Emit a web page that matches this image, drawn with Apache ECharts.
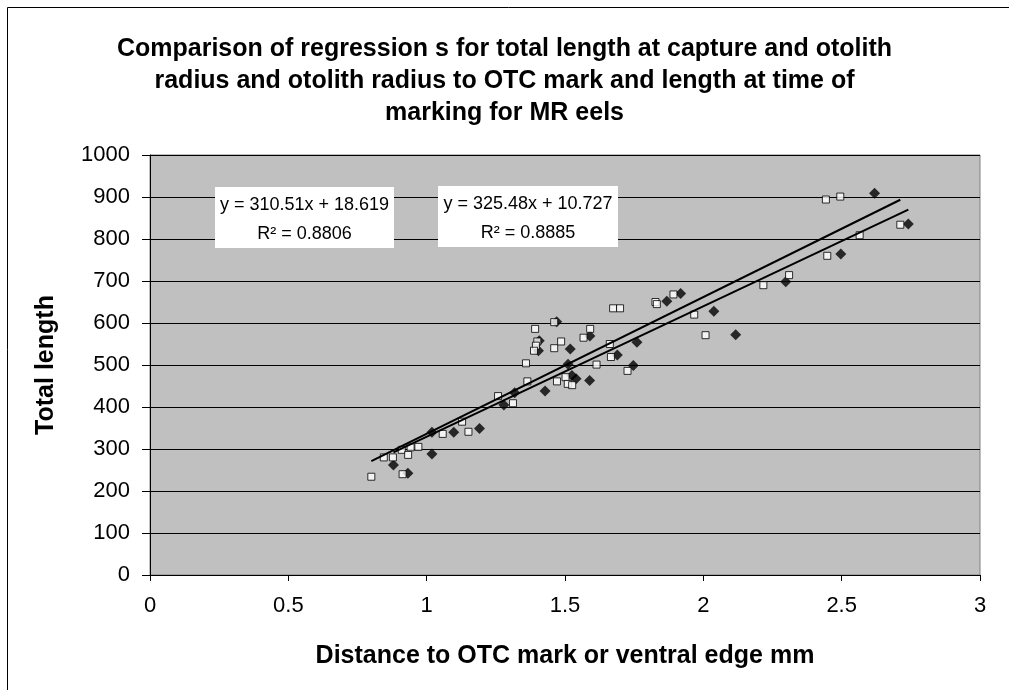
<!DOCTYPE html>
<html>
<head>
<meta charset="utf-8">
<script src="https://cdn.jsdelivr.net/npm/echarts@6/dist/echarts.min.js"></script>
<style>html,body{margin:0;padding:0;background:#fff}#c{width:1009px;height:690px}</style>
</head>
<body>
<div id="c"></div>
<script>
// Length at capture vs otolith radius (open squares)
const captureX = [0.80,0.845,0.878,0.913,0.910,0.933,0.942,0.970,1.058,1.128,1.151,1.258,1.312,1.364,1.359,1.392,1.400,1.395,1.388,1.461,1.461,1.486,1.471,1.502,1.510,1.526,1.567,1.591,1.614,1.662,1.666,1.674,1.699,1.726,1.827,1.832,1.892,1.967,2.008,2.217,2.310,2.443,2.495,2.448,2.565,2.712];
const captureY = [234,280,280,240,298,286,304,305,336,365,341,426,409,461,504,586,556,546,534,602,540,556,461,471,455,452,565,586,501,550,519,635,635,486,650,645,668,620,571,690,714,894,901,760,809,834];
// Length at marking vs radius to OTC mark (filled diamonds)
const markingX = [0.880,0.932,1.019,1.019,1.098,1.191,1.279,1.318,1.428,1.407,1.404,1.470,1.519,1.511,1.525,1.540,1.589,1.590,1.689,1.760,1.747,1.868,1.918,2.038,2.117,2.298,2.497,2.619,2.741];
const markingY = [262,242,288,340,340,349,405,434,438,558,534,603,538,502,475,467,463,569,524,554,499,652,670,628,572,698,764,909,836];
// Regression fits [slope, intercept, R2]
const fitCapture = [325.48, 10.727, 0.8885];
const fitMarking = [310.51, 18.619, 0.8806];
const xTicks = [0,0.5,1,1.5,2,2.5,3];
const titleText = 'Comparison of regression s for total length at capture and otolith\nradius and otolith radius to OTC mark and length at time of\nmarking for MR eels';

const pts = (xs, ys) => xs.map((x, i) => [x, ys[i]]);
const fitLine = (xs, f) => {
  const lo = Math.min(...xs), hi = Math.max(...xs);
  return [[lo, f[0]*lo + f[1]], [hi, f[0]*hi + f[1]]];
};
const eq = f => 'y = ' + f[0].toFixed(2) + 'x + ' + f[1].toFixed(3) + '\nR² = ' + f[2].toFixed(4);

const FONT = 'Liberation Sans, Arial, sans-serif';
const chart = echarts.init(document.getElementById('c'), null, {renderer: 'canvas'});
chart.setOption({
  animation: false,
  backgroundColor: '#ffffff',
  title: {
    text: titleText, left: 'center', top: 28,
    textStyle: {fontFamily: FONT, fontSize: 25, fontWeight: 'bold', color: '#000', lineHeight: 32}
  },
  grid: {left: 150, right: 29, top: 155, bottom: 115, show: true, backgroundColor: '#C0C0C0', borderColor: '#808080', borderWidth: 1},
  xAxis: {
    type: 'value', min: 0, max: 3, interval: 0.5,
    name: 'Distance to OTC mark or ventral edge mm', nameLocation: 'middle', nameGap: 69,
    nameTextStyle: {fontFamily: FONT, fontSize: 25, fontWeight: 'bold', color: '#000'},
    axisLine: {show: true, onZero: false, lineStyle: {color: '#000', width: 1}},
    axisTick: {show: true, length: 6, lineStyle: {color: '#000'}},
    axisLabel: {fontFamily: FONT, fontSize: 22, color: '#000', margin: 20, formatter: v => String(v)},
    splitLine: {show: false}
  },
  yAxis: {
    type: 'value', min: 0, max: 1000, interval: 100,
    name: 'Total length', nameLocation: 'middle', nameGap: 91,
    nameTextStyle: {fontFamily: FONT, fontSize: 25, fontWeight: 'bold', color: '#000'},
    axisLine: {show: true, onZero: false, lineStyle: {color: '#000', width: 1}},
    axisTick: {show: true, length: 8, lineStyle: {color: '#000'}},
    axisLabel: {fontFamily: FONT, fontSize: 22, color: '#000', margin: 20, formatter: v => String(v)},
    splitLine: {show: true, lineStyle: {color: '#000', width: 1}}
  },
  series: [
    {type: 'scatter', data: pts(markingX, markingY), symbol: 'diamond', symbolSize: 11,
     itemStyle: {color: '#000', borderColor: '#000', borderWidth: 0}, z: 3},
    {type: 'scatter', data: pts(captureX, captureY), symbol: 'rect', symbolSize: 7,
     itemStyle: {color: '#fff', borderColor: '#000', borderWidth: 1}, z: 4},
    {type: 'line', data: fitLine(captureX, fitCapture), showSymbol: false, symbol: 'none',
     lineStyle: {color: '#000', width: 2}, z: 5},
    {type: 'line', data: fitLine(markingX, fitMarking), showSymbol: false, symbol: 'none',
     lineStyle: {color: '#000', width: 2}, z: 5}
  ],
  graphic: [
    {type: 'rect', left: 5, top: 5, shape: {width: 1030, height: 720}, style: {fill: 'none', stroke: '#000', lineWidth: 1}, silent: true, z: 0},
    {type: 'rect', left: 215, top: 187, shape: {width: 179, height: 61}, style: {fill: '#fff'}, z: 10},
    {type: 'text', x: 304.5, y: 191, style: {text: eq(fitMarking), fontFamily: FONT, fontSize: 18, fill: '#000', align: 'center', verticalAlign: 'top', lineHeight: 29}, z: 11},
    {type: 'rect', left: 438, top: 186, shape: {width: 180, height: 61}, style: {fill: '#fff'}, z: 10},
    {type: 'text', x: 528, y: 190, style: {text: eq(fitCapture), fontFamily: FONT, fontSize: 18, fill: '#000', align: 'center', verticalAlign: 'top', lineHeight: 29}, z: 11}
  ]
});
</script>
</body>
</html>
